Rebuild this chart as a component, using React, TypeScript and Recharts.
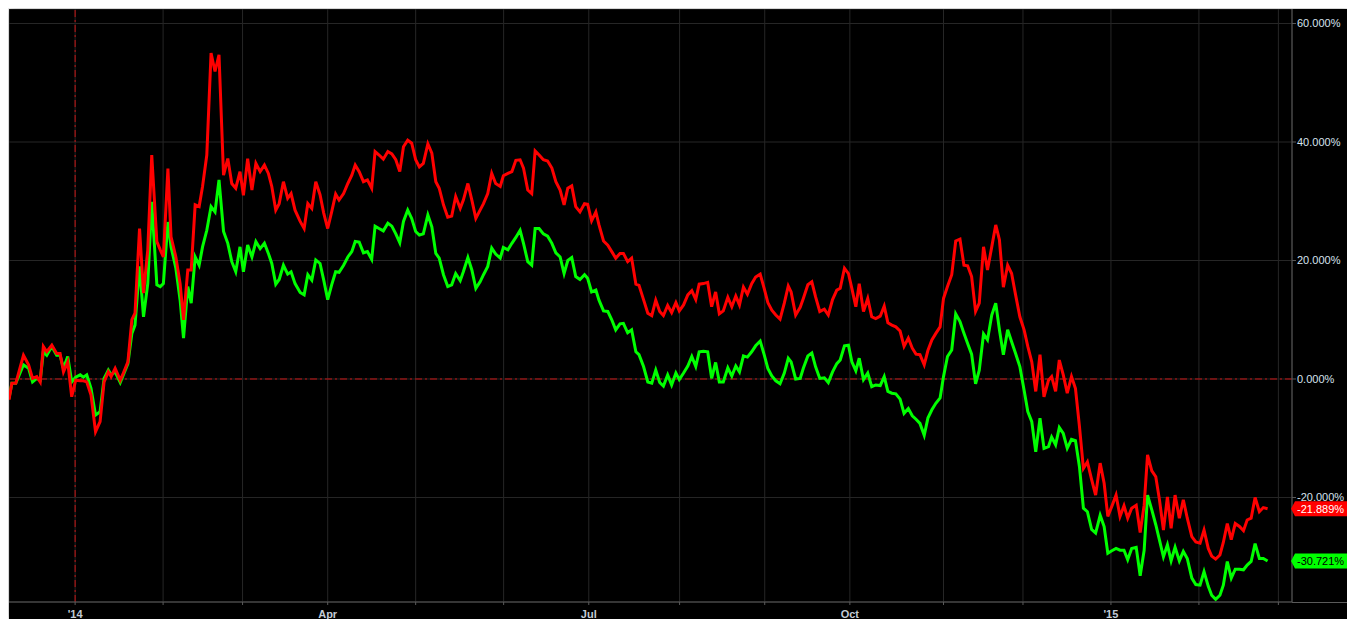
import { LineChart, Line, XAxis, YAxis, CartesianGrid, ReferenceLine } from 'recharts';

const CHART_W = 1338;
const CHART_H = 610;
const Y_AXIS_W = 55;
const X_AXIS_H = 17;
const PLOT_RIGHT = CHART_W - Y_AXIS_W;

// days from 1 Jan 2014
const days = [
  -23.3, -22.3, -20.9, -18.2, -16.4, -15.0, -13.5, -12.3, -11.2, -10.0, -8.2, -6.5, -5.3, -4.1, -2.6, -1.2, 0.2, 1.8, 2.9, 4.1,
  5.6, 7.2, 8.8, 10.2, 11.7, 12.7, 14.1, 15.9, 17.0, 18.6, 20.0, 21.1, 22.7, 24.1, 25.6, 27.0, 28.8, 30.0, 31.1, 32.7,
  33.8, 35.5, 37.0, 38.2, 39.7, 40.9, 42.3, 43.7, 44.9, 46.4, 47.9, 49.3, 50.7, 52.3, 53.8, 55.2, 56.6, 58.1, 59.3, 60.8,
  62.3, 63.7, 65.2, 66.7, 68.1,
  69.3, 70.7, 71.9, 73.4, 74.9, 76.1, 77.5, 79.3, 80.7, 82.0, 83.4, 84.8, 86.3, 87.6, 89.0, 90.4, 91.8, 93.0, 94.6, 96.1,
  97.5, 98.7, 100.1, 101.6, 103.0, 104.5, 105.7, 107.1, 108.6, 110.2, 111.6, 113.0, 114.4, 115.7, 117.2, 118.6, 120.0, 121.3, 122.7, 124.3,
  125.7, 127.1, 128.3, 129.8, 131.3, 132.7, 134.1, 135.7, 136.8, 138.4, 139.8, 141.2, 142.7, 143.9, 145.4, 146.8, 148.2, 149.8, 150.9, 152.5,
  153.9, 155.3, 156.8, 158.0, 159.5,
  160.9, 162.1, 163.5, 165.0, 166.5, 168.0, 169.4, 170.9, 172.3, 173.6, 175.0, 176.4, 177.9, 179.5, 180.6, 182.0, 183.5, 184.6, 186.2, 187.7,
  189.1, 190.5, 192.0, 193.2, 194.7, 196.1, 197.6, 198.7, 200.3, 201.8, 203.2, 204.6, 206.0, 207.3, 208.8, 210.2, 211.7, 212.9, 214.4, 215.9,
  217.3, 218.7, 219.9, 221.4, 222.9, 224.3, 225.7, 227.0, 228.4, 230.0, 231.4, 232.8, 234.1, 235.5, 236.9, 238.4, 239.8, 241.4, 242.8, 244.1,
  245.5, 246.9, 248.4, 249.9, 251.3,
  252.3, 253.9, 255.5, 256.6, 258.2, 259.6, 260.9, 262.4, 264.0, 265.4, 266.9, 268.4, 269.6, 271.1, 272.5, 273.7, 275.1, 276.3, 277.8, 279.3,
  280.7, 282.1, 283.7, 285.1, 286.4, 287.8, 289.2, 290.7, 292.1, 293.6, 295.0, 296.3, 297.7, 299.2, 300.5, 301.9, 303.3, 304.8, 306.0, 307.4,
  308.9, 310.3, 311.8, 313.2, 314.5, 315.9, 317.3, 318.6, 320.1, 321.5, 323.0, 324.4, 325.7, 327.1, 328.6, 330.0, 331.4, 332.9, 334.4, 335.7,
  337.1, 338.5, 340.0, 341.4, 343.0,
  344.1, 345.5, 346.8, 348.2, 349.6, 351.1, 352.5, 353.9, 355.3, 356.7, 358.2, 359.6, 361.2, 362.6, 363.9, 365.3, 366.8, 368.2, 369.6, 370.9,
  372.3, 373.9, 375.3, 376.7, 377.9, 379.4, 380.8, 382.1, 383.5, 384.9, 386.2, 387.6, 389.1, 390.5, 391.9, 393.5, 394.9, 396.4, 397.8, 399.3,
  400.5, 401.9, 403.4, 404.6, 406.0, 407.4, 408.8, 410.3, 411.7, 413.0, 414.4, 415.8, 417.3, 418.7, 420.2,
];

const redSeries = [
  -3.5, -0.7, -0.7, 4.0, 2.4, 0.1, 0.4, -0.5, 5.5, 4.6, 5.7, 4.3, 4.3, 1.2, 2.9, -3.0, -0.2, -0.3, -0.3, -0.5,
  -2.7, -8.9, -7.2, -0.5, 1.2, 0.4, 1.8, -0.2, 1.0, 2.9, 10.0, 11.1, 25.4, 14.5, 21.8, 37.8, 23.2, 21.8, 20.6, 35.5,
  24.0, 20.6, 16.1, 10.0, 18.4, 18.4, 29.4, 29.1, 32.5, 37.8, 55.0, 51.9, 54.7, 34.4, 37.2, 33.0, 32.2, 35.0, 31.0, 37.2,
  31.9, 36.4, 35.0, 36.1, 34.7,
  32.5, 28.5, 29.6, 33.3, 30.5, 31.3, 28.5, 26.6, 25.4, 29.6, 28.8, 33.3, 31.1, 28.0, 25.4, 28.2, 31.2, 30.2, 31.3, 33.0,
  34.4, 36.1, 35.0, 33.3, 33.6, 32.2, 38.4, 37.8, 37.1, 38.4, 38.0, 37.0, 35.0, 39.2, 40.3, 39.8, 37.0, 35.8, 36.4, 39.7,
  38.1, 33.3, 32.2, 29.4, 27.3, 27.5, 30.8, 28.8, 30.2, 33.0, 30.2, 27.1, 28.5, 29.6, 31.3, 34.7, 33.0, 32.5, 34.3, 34.7,
  35.0, 36.9, 37.0, 35.6, 31.9,
  31.3, 38.5, 37.8, 37.0, 36.8, 35.6, 33.3, 31.9, 29.4, 32.2, 32.6, 29.1, 28.2, 29.6, 29.5, 26.7, 28.2, 26.0, 23.3, 22.6,
  21.5, 20.4, 21.2, 21.2, 19.8, 20.4, 16.0, 15.8, 13.4, 11.1, 10.7, 13.3, 11.4, 10.7, 12.4, 11.2, 12.9, 11.5, 12.5, 14.2,
  14.9, 13.4, 16.0, 16.1, 16.3, 12.2, 14.7, 11.0, 11.5, 13.8, 12.2, 14.0, 12.5, 15.5, 14.3, 16.1, 17.2, 17.7, 15.3, 12.9,
  11.6, 10.8, 10.1, 12.8, 15.7,
  14.7, 10.8, 12.1, 13.6, 15.9, 16.4, 13.9, 11.4, 11.8, 10.8, 13.4, 15.0, 15.3, 18.7, 17.8, 15.3, 12.2, 16.1, 11.4, 13.6,
  10.5, 10.2, 10.6, 12.3, 9.5, 9.1, 8.8, 8.1, 5.5, 6.9, 5.2, 4.2, 4.1, 2.4, 4.8, 6.6, 7.7, 8.8, 13.6, 15.6,
  17.6, 23.3, 23.6, 19.2, 19.1, 17.3, 11.4, 12.8, 22.3, 18.4, 22.3, 26.0, 23.5, 15.5, 19.2, 17.8, 14.2, 10.5, 8.3, 5.5,
  2.9, -2.1, 4.1, -3.0, -0.2,
  0.4, -2.1, 3.2, 0.7, -2.4, 0.4, -1.6, -8.0, -15.1, -14.0, -17.0, -19.6, -14.2, -17.6, -23.2, -21.5, -19.6, -23.2, -21.4, -23.5,
  -21.8, -21.3, -25.9, -21.3, -12.8, -15.5, -16.5, -20.4, -25.5, -19.9, -25.2, -19.6, -23.5, -20.4, -23.5, -26.6, -27.5, -27.7, -25.5, -28.6,
  -29.9, -30.4, -29.7, -27.6, -24.4, -27.1, -24.4, -24.9, -25.6, -23.8, -23.5, -20.0, -22.4, -21.7, -21.889,
];

const greenSeries = [
  -3.3, -0.7, -0.7, 2.4, 1.8, -0.5, 0.1, -0.2, 4.6, 4.0, 5.5, 4.0, 4.0, 1.8, 3.8, -0.5, 0.3, 0.7, 0.3, 0.7,
  -1.6, -6.1, -5.5, 0.1, 1.5, 0.7, 1.2, -0.6, 0.7, 2.6, 7.7, 9.1, 19.0, 10.5, 16.1, 29.9, 15.9, 15.6, 16.1, 26.5,
  22.3, 18.7, 13.3, 6.9, 15.6, 12.8, 20.6, 19.2, 22.3, 25.1, 29.1, 28.2, 33.6, 24.9, 22.9, 19.8, 18.1, 22.3, 18.1, 22.6,
  20.6, 23.2, 22.0, 22.9, 21.2,
  19.5, 16.0, 16.8, 19.2, 17.7, 18.1, 16.1, 14.6, 14.2, 17.6, 16.7, 20.1, 19.5, 16.7, 13.4, 15.9, 18.1, 18.0, 19.2, 20.6,
  21.5, 23.2, 23.1, 21.3, 21.5, 20.2, 25.8, 25.4, 25.0, 26.3, 25.8, 24.5, 23.0, 26.6, 28.5, 27.1, 24.9, 24.3, 24.5, 27.7,
  25.7, 21.2, 20.4, 17.6, 15.6, 15.9, 17.8, 16.6, 18.1, 20.5, 18.4, 15.3, 16.4, 17.6, 19.0, 22.1, 21.1, 20.4, 22.2, 21.8,
  22.9, 23.9, 25.1, 22.9, 19.8,
  19.2, 25.4, 25.4, 24.5, 24.1, 22.9, 21.3, 20.6, 17.8, 20.0, 20.5, 17.3, 16.8, 17.6, 17.0, 14.7, 15.0, 13.3, 11.5, 11.4,
  10.0, 8.3, 9.3, 9.4, 7.8, 8.3, 4.6, 4.1, 2.1, -0.5, -0.7, 1.5, -0.6, -1.2, 0.7, -1.0, 1.0, -0.1, 1.0, 2.2,
  3.8, 2.1, 4.6, 4.7, 4.6, 0.1, 2.8, -0.5, -0.5, 1.9, 0.5, 2.2, 1.2, 3.9, 3.7, 4.6, 5.6, 6.4, 4.1, 1.8,
  0.5, -0.3, -0.8, 1.0, 3.5,
  2.9, 0.0, 0.1, 1.8, 3.9, 4.4, 2.1, 0.1, 0.2, -0.6, 1.2, 2.6, 3.2, 5.6, 5.7, 2.9, 1.4, 3.5, -0.1, 1.0,
  -1.3, -1.0, -1.1, 0.4, -2.1, -2.4, -2.5, -3.4, -5.8, -5.0, -6.2, -6.8, -7.5, -9.5, -6.6, -5.2, -4.1, -3.2, 0.4, 3.8,
  4.9, 11.0, 9.7, 7.7, 6.0, 4.2, -0.8, 1.5, 7.6, 6.6, 10.8, 12.8, 8.3, 4.1, 8.3, 6.3, 4.3, 2.1, -1.9, -5.5,
  -7.2, -12.3, -6.6, -11.7, -11.4,
  -9.8, -11.1, -8.2, -9.2, -11.7, -10.2, -10.4, -14.8, -21.8, -22.4, -25.4, -26.0, -23.0, -24.9, -29.4, -29.0, -28.6, -28.9, -28.9, -30.5,
  -28.6, -28.4, -33.2, -28.9, -19.6, -22.1, -24.6, -27.2, -30.0, -28.0, -30.7, -28.4, -30.7, -29.1, -30.3, -33.6, -34.7, -34.8, -32.5, -35.0,
  -36.5, -37.2, -36.5, -34.8, -30.8, -33.6, -32.1, -32.1, -32.2, -31.4, -30.8, -27.8, -30.3, -30.3, -30.721,
];

const monthTicks = [0, 31, 59, 89, 120, 151, 181, 213, 243, 273, 306, 334, 365, 396, 424];
const monthLabels: Record<number, string> = { 0: "'14", 89: 'Apr', 181: 'Jul', 273: 'Oct', 365: "'15" };
const pctTicks = [-20, 0, 20, 40, 60];
const X_DOMAIN: [number, number] = [-23.3, 428.8];
const Y_DOMAIN: [number, number] = [-37.64, 62.45];

const RED = '#ff0000';
const GREEN = '#00ff00';
const GRID = '#262626';
const AXIS = '#5a5a5a';
const FONT = '"Liberation Sans", Arial, sans-serif';

const data = days.map((d, i) => ({ day: d, red: redSeries[i], green: greenSeries[i] }));
const LAST = data.length - 1;

function EndTag({ cy, value, fill, textFill }: { cy: number; value: number; fill: string; textFill: string }) {
  const x = PLOT_RIGHT - 1;
  const h = 7.5;
  return (
    <g>
      <polygon
        points={`${x},${cy} ${x + 4},${cy - h} ${CHART_W},${cy - h} ${CHART_W},${cy + h} ${x + 4},${cy + h}`}
        fill={fill}
      />
      <text x={x + 6} y={cy + 4} fontSize={11} fill={textFill} fontFamily={FONT}>
        {value.toFixed(3)}%
      </text>
    </g>
  );
}

const tagDot = (fill: string, textFill: string) => (p: any) =>
  p.index === LAST ? (
    <EndTag key={`tag-${fill}`} cy={p.cy} value={p.value} fill={fill} textFill={textFill} />
  ) : (
    <g key={`d-${fill}-${p.index}`} />
  );

export default function App() {
  return (
    <div style={{ padding: '1px 0 0 1px', fontFamily: FONT }}>
      <div
        style={{
          position: 'relative',
          width: CHART_W,
          height: CHART_H,
          background: '#000',
          boxShadow: '0 0 8px 1px rgba(0,0,0,0.3)',
        }}
      >
        <LineChart width={CHART_W} height={CHART_H} data={data} margin={{ top: 0, right: 0, bottom: 0, left: 0 }}>
          <CartesianGrid stroke={GRID} />
          <XAxis
            dataKey="day"
            type="number"
            domain={X_DOMAIN}
            ticks={monthTicks}
            interval={0}
            height={X_AXIS_H}
            tickFormatter={(v: number) => monthLabels[v] ?? ''}
            tick={{ fontSize: 11, fontWeight: 700, fill: '#c3cbd6', fontFamily: FONT }}
            axisLine={{ stroke: AXIS }}
            tickLine={{ stroke: AXIS }}
            tickSize={3}
            tickMargin={5}
          />
          <YAxis
            orientation="right"
            type="number"
            domain={Y_DOMAIN}
            ticks={pctTicks}
            interval={0}
            width={Y_AXIS_W}
            tickFormatter={(v: number) => `${v.toFixed(3)}%`}
            tick={{ fontSize: 11, fill: '#d6e2ee', fontFamily: FONT }}
            axisLine={{ stroke: AXIS }}
            tickLine={{ stroke: AXIS }}
            tickSize={4}
            tickMargin={1}
          />
          <ReferenceLine y={0} stroke="#c81414" strokeDasharray="7 3 2 3" />
          <ReferenceLine x={0} stroke="#c81414" strokeDasharray="7 3 2 3" />
          <Line
            type="linear"
            dataKey="green"
            stroke={GREEN}
            strokeWidth={3}
            dot={tagDot(GREEN, '#000')}
            activeDot={false}
            isAnimationActive={false}
          />
          <Line
            type="linear"
            dataKey="red"
            stroke={RED}
            strokeWidth={3}
            dot={tagDot(RED, '#fff')}
            activeDot={false}
            isAnimationActive={false}
          />
        </LineChart>
        <div
          style={{
            position: 'absolute',
            left: PLOT_RIGHT,
            top: CHART_H - X_AXIS_H,
            width: Y_AXIS_W,
            height: 1,
            background: AXIS,
          }}
        />
      </div>
    </div>
  );
}
